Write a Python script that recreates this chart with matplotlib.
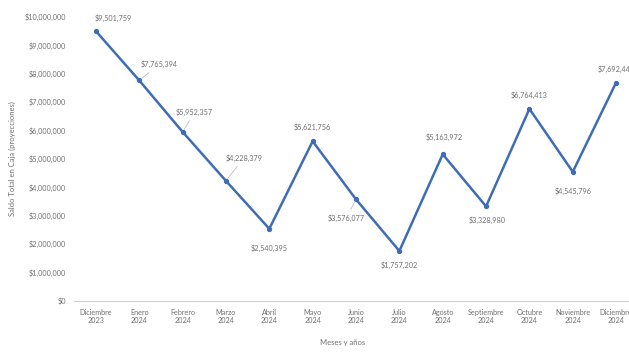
import numpy as np
import matplotlib as mpl
mpl.use("Agg")
import matplotlib.pyplot as plt
from matplotlib.ticker import FuncFormatter

plt.rcParams['font.family'] = ['Lato', 'DejaVu Sans']

months = ['Diciembre\n2023', 'Enero\n2024', 'Febrero\n2024', 'Marzo\n2024', 'Abril\n2024',
          'Mayo\n2024', 'Junio\n2024', 'Julio\n2024', 'Agosto\n2024', 'Septiembre\n2024',
          'Octubre\n2024', 'Noviembre\n2024', 'Diciembre\n2024']
saldo = [9501759, 7765394, 5952357, 4228379, 2540395, 5621756, 3576077,
         1757202, 5163972, 3328980, 6764413, 4545796, 7692443]
# label offsets in pixels (dx, dy) and whether a leader line is drawn
offsets = [(17, 13), (20, 16), (12, 20), (18, 23), (0, -19), (0, 14), (-10, -19),
           (0, -14), (1, 17), (1, -14), (0, 14), (0, -19), (0, 13)]
leaders = [False, True, True, True, False, False, True,
           False, False, False, False, False, False]

line_color = '#3f6db5'
text_color = '#707070'

fig = plt.figure(figsize=(6.29, 3.54), dpi=100)
ax = fig.add_axes([0.118, 0.150, 0.896, 0.802])

x = np.arange(len(months))
ax.plot(x, saldo, color=line_color, lw=1.8, marker='o', ms=2.8, zorder=3)

for xi, v, (dx, dy), ld in zip(x, saldo, offsets, leaders):
    kw = {}
    if ld:
        kw['arrowprops'] = dict(arrowstyle='-', color='#bfbfbf', lw=0.6, shrinkA=2, shrinkB=2)
    ax.annotate('${:,}'.format(v), (xi, v), xytext=(dx * 0.72, dy * 0.72),
                textcoords='offset points', ha='center', va='center',
                fontsize=5.2, color=text_color, **kw)

ax.set_xlim(-0.5, len(months) - 0.5)
ax.set_ylim(0, 10000000)
ax.set_yticks(np.arange(0, 10000001, 1000000))
ax.yaxis.set_major_formatter(FuncFormatter(lambda v, p: '${:,.0f}'.format(v)))
ax.set_xticks(x)
ax.set_xticklabels(months)

for s in ['top', 'right', 'left']:
    ax.spines[s].set_visible(False)
ax.spines['bottom'].set_color('#d0d0d0')
ax.spines['bottom'].set_linewidth(0.8)
ax.spines['bottom'].set_linestyle((0, (2, 1)))
ax.tick_params(axis='both', length=0, labelsize=5.2, labelcolor=text_color, pad=6)

ax.set_ylabel('Saldo Total en Caja (proyecciones)', fontsize=5.5, color=text_color, labelpad=6)
ax.set_xlabel('Meses y años', fontsize=5.5, color=text_color, labelpad=5)
ax.xaxis.set_label_coords(0.476, -0.135)

fig.savefig('out.png', dpi=100)
